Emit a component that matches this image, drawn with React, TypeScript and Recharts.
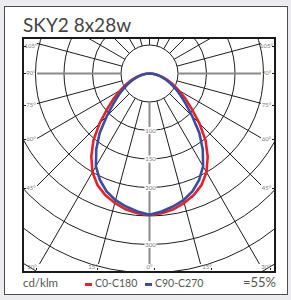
import React from "react";
import { RadarChart, Radar, PolarGrid, PolarAngleAxis, PolarRadiusAxis } from "recharts";

// gamma angles from nadir, one half of each plane (mirrored for the other half)
const gamma = [0, 5, 10, 15, 20, 25, 30, 35, 40, 45, 50, 55, 60, 65, 70, 75, 80, 85, 90];
const c0c180 = [248, 246, 242, 235, 227, 216, 200, 178, 153, 124, 97, 77, 59, 45, 33, 23, 14, 6, 0];
const c90c270 = [248, 243, 237, 230, 220, 206, 188, 163, 136, 106, 83, 66, 52, 40, 30, 21, 13, 6, 0];

const radiusLabels = [100, 150, 200, 300];
const sideLabels = ["105°", "90°", "75°", "60°", "45°"];
const bottomLabels = ["30°", "15°", "0°", "15°", "30°"];
const seriesNames = ["C0-C180", "C90-C270"];
const title = "SKY2 8x28w";
const unitText = "cd/klm";
const efficiency = "=55%";

const RED = "#e62129";
const BLUE = "#3a4da0";

// full turn in 5 degree steps, upper hemisphere has no light
const fullTurn = Array.from({ length: 72 }, (_, i) => i * 5);
const pick = (vals: number[], g: number) => {
  const a = g <= 180 ? g : 360 - g;
  const idx = gamma.indexOf(a);
  return idx >= 0 ? vals[idx] : 0;
};
const data = fullTurn.map((g) => ({ g, c0: pick(c0c180, g), c90: pick(c90c270, g) }));

// spokes every 15 deg (recharts angles, -90 = down)
const allSpokes = Array.from({ length: 24 }, (_, k) => -90 + 15 * k);
const greySpokes = [-90, 0, 180];
const blackSpokes = allSpokes.filter((a) => !greySpokes.includes(a));

// layout
const PLOT = { left: 23, top: 38, width: 252, height: 234 };
const sideY = [46, 73, 105, 139, 188];
const bottomX = [32, 93, 149.5, 207, 266];

const renderRadiusTick = (props: any) => {
  const { x, y, payload } = props;
  if (!radiusLabels.includes(payload.value)) return <g />;
  return (
    <g>
      <rect x={x - 5} y={y - 3.5} width={12} height={7} fill="#fff" />
      <text x={x + 1} y={y} dy={2.1} textAnchor="middle" fontSize={6} fill="#7a7a7a" fontFamily="Lato, sans-serif">
        {payload.value}
      </text>
    </g>
  );
};

const small: React.CSSProperties = {
  position: "absolute",
  fontSize: 6,
  lineHeight: "6px",
  color: "#7a7a7a",
  whiteSpace: "nowrap",
  transform: "translate(-50%, -50%)",
};

const tickMark: React.CSSProperties = { position: "absolute", background: "#1a1a1a" };

export default function App() {
  return (
    <div
      style={{
        position: "relative",
        width: 291,
        height: 300,
        background: "#ebebf0",
        fontFamily: "Lato, sans-serif",
        overflow: "hidden",
      }}
    >
      <style>{"body{margin:0}"}</style>
      <div
        style={{
          position: "absolute",
          left: 4,
          top: 6,
          width: 284,
          height: 289,
          boxSizing: "border-box",
          border: "1.5px solid #4d4d4d",
          background: "#fff",
        }}
      />
      <div
        style={{
          position: "absolute",
          left: 23,
          top: 15,
          fontSize: 19,
          lineHeight: "19px",
          color: "#444",
          whiteSpace: "nowrap",
        }}
      >
        {title}
      </div>

      <div
        style={{
          position: "absolute",
          left: PLOT.left,
          top: PLOT.top,
          width: PLOT.width,
          height: PLOT.height,
          overflow: "hidden",
        }}
      >
        <RadarChart
          width={PLOT.width}
          height={PLOT.height}
          data={data}
          cx={126.5}
          cy={35.5}
          innerRadius={28.5}
          outerRadius={228}
          startAngle={-90}
          endAngle={270}
          margin={{ top: 0, right: 0, bottom: 0, left: 0 }}
        >
          <defs>
            <clipPath id="spokeClip">
              <rect x={14} y={-5} width={224} height={231} />
            </clipPath>
          </defs>
          <PolarGrid gridType="circle" radialLines={false} stroke="#1e1e1e" strokeWidth={1} />
          <PolarGrid
            gridType="circle"
            polarRadius={[]}
            polarAngles={blackSpokes}
            stroke="#1e1e1e"
            strokeWidth={1}
            clipPath="url(#spokeClip)"
          />
          <PolarGrid
            gridType="circle"
            polarRadius={[]}
            polarAngles={greySpokes}
            stroke="#8a8a8a"
            strokeWidth={2}
            clipPath="url(#spokeClip)"
          />
          <PolarAngleAxis dataKey="g" type="number" domain={[0, 360]} tick={false} axisLine={false} tickLine={false} />
          <PolarRadiusAxis
            angle={-90}
            type="number"
            domain={[50, 400]}
            allowDataOverflow
            tickCount={8}
            axisLine={false}
            tickLine={false}
            tick={renderRadiusTick}
          />
          <Radar dataKey="c0" name={seriesNames[0]} stroke={RED} strokeWidth={2.6} fill="none" fillOpacity={0} dot={false} isAnimationActive={false} />
          <Radar dataKey="c90" name={seriesNames[1]} stroke={BLUE} strokeWidth={2.6} fill="none" fillOpacity={0} dot={false} isAnimationActive={false} />
        </RadarChart>

        {sideLabels.map((t, i) => (
          <React.Fragment key={"s" + i}>
            <div style={{ ...small, left: 31 - PLOT.left, top: sideY[i] - PLOT.top }}>{t}</div>
            <div style={{ ...small, left: 266.5 - PLOT.left, top: sideY[i] - PLOT.top }}>{t}</div>
            <div style={{ ...tickMark, left: 1, top: sideY[i] - PLOT.top - 0.5, width: 2, height: 1 }} />
            <div style={{ ...tickMark, left: PLOT.width - 3, top: sideY[i] - PLOT.top - 0.5, width: 2, height: 1 }} />
          </React.Fragment>
        ))}
        {bottomLabels.map((t, i) => (
          <React.Fragment key={"b" + i}>
            <div style={{ ...small, left: bottomX[i] - PLOT.left, top: 267 - PLOT.top }}>{t}</div>
            <div style={{ ...tickMark, left: bottomX[i] - PLOT.left + 4, top: PLOT.height - 4, width: 1, height: 2 }} />
          </React.Fragment>
        ))}
      </div>

      <div
        style={{
          position: "absolute",
          left: 22,
          top: 37,
          width: 254,
          height: 236,
          boxSizing: "border-box",
          border: "2px solid #1a1a1a",
          pointerEvents: "none",
        }}
      />

      <div style={{ position: "absolute", left: 23, top: 277, fontSize: 11.5, lineHeight: "11.5px", color: "#555" }}>
        {unitText}
      </div>
      <div style={{ position: "absolute", left: 85, top: 283, width: 7, height: 2.5, background: RED }} />
      <div style={{ position: "absolute", left: 95, top: 277.7, fontSize: 10.5, lineHeight: "10.5px", color: "#555", whiteSpace: "nowrap" }}>
        {seriesNames[0]}
      </div>
      <div style={{ position: "absolute", left: 145, top: 283, width: 7, height: 2.5, background: BLUE }} />
      <div style={{ position: "absolute", left: 155, top: 277.7, fontSize: 10.5, lineHeight: "10.5px", color: "#555", whiteSpace: "nowrap" }}>
        {seriesNames[1]}
      </div>
      <div style={{ position: "absolute", right: 15, top: 275.5, fontSize: 13, lineHeight: "13px", color: "#555", whiteSpace: "nowrap" }}>
        {efficiency}
      </div>
    </div>
  );
}
